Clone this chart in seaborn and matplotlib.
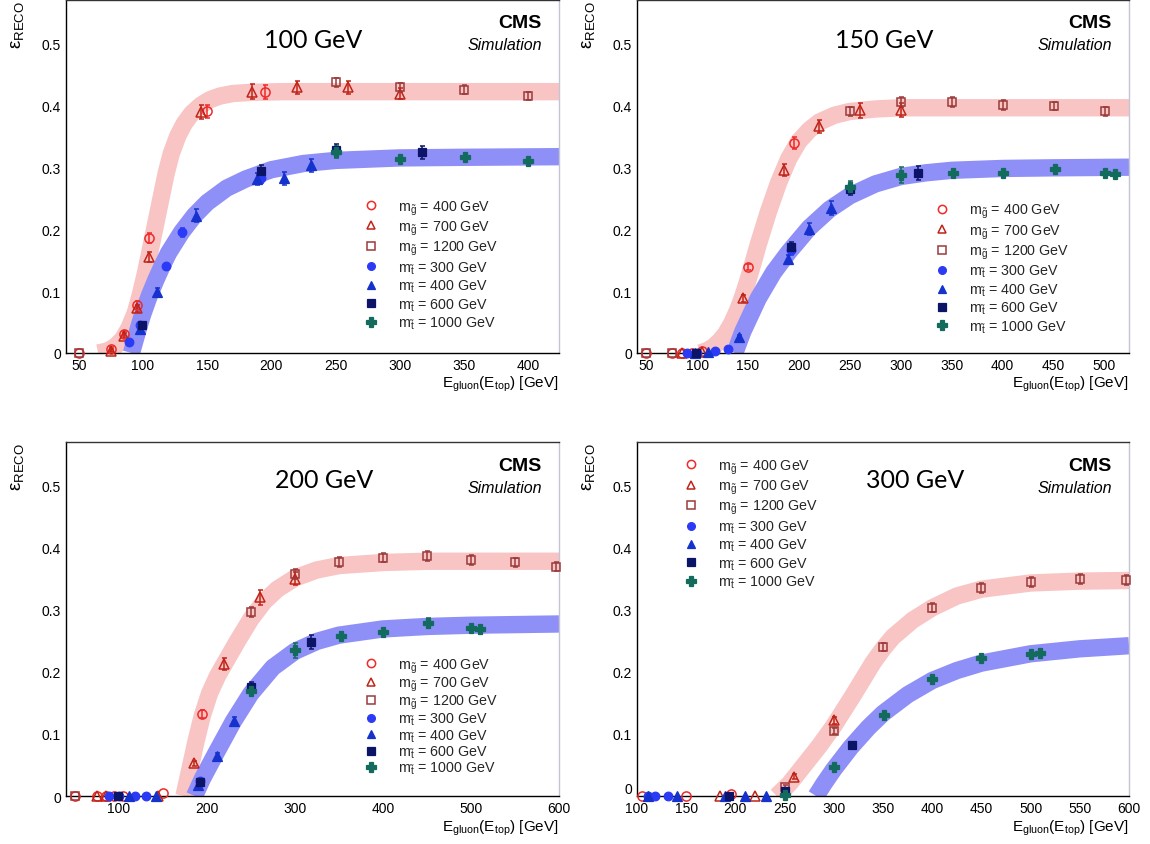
import numpy as np
import pandas as pd
import matplotlib
matplotlib.use("Agg")
import matplotlib.pyplot as plt
from matplotlib.ticker import MultipleLocator, FixedLocator, FixedFormatter
from matplotlib.lines import Line2D
import seaborn as sns

# ---------------- data: (E [GeV], efficiency, error) ----------------
# panel "100 GeV"
G100_GL400 = [(50, 0.0, 0), (75, 0.007, 0.003), (85, 0.031, 0.004), (95, 0.078, 0.006),
              (105, 0.185, 0.008), (150, 0.39, 0.01), (195, 0.421, 0.011)]
G100_GL700 = [(75, 0.004, 0.002), (85, 0.028, 0.004), (95, 0.072, 0.006), (105, 0.155, 0.008),
              (145, 0.389, 0.011), (185, 0.422, 0.012), (220, 0.429, 0.011), (260, 0.429, 0.011),
              (300, 0.419, 0.009)]
G100_GL1200 = [(50, 0.0, 0), (250, 0.437, 0.007), (300, 0.429, 0.007), (350, 0.425, 0.007),
               (400, 0.415, 0.007)]
G100_ST300 = [(89, 0.018, 0.003), (98, 0.045, 0.005), (118, 0.14, 0.006), (130, 0.195, 0.007),
              (192, 0.283, 0.009)]
G100_ST400 = [(98, 0.039, 0.004), (111, 0.098, 0.007), (141, 0.222, 0.01), (189, 0.281, 0.009),
              (210, 0.282, 0.011), (231, 0.303, 0.011)]
G100_ST600 = [(99, 0.046, 0.004), (192, 0.294, 0.009), (250, 0.328, 0.01), (317, 0.324, 0.01)]
G100_ST1000 = [(250, 0.325, 0.01), (300, 0.313, 0.006), (351, 0.317, 0.006), (400, 0.31, 0.006)]
G100_FIT_GL_X = [65, 72, 78, 84, 89, 94, 98, 102, 106, 110, 114, 118, 122, 127, 132, 138, 145,
                 152, 160, 170, 185, 210, 424]
G100_FIT_GL_Y = [0.0, 0.003, 0.01, 0.022, 0.04, 0.065, 0.095, 0.13, 0.17, 0.21, 0.25, 0.29, 0.322,
                 0.35, 0.37, 0.387, 0.4, 0.409, 0.415, 0.419, 0.421, 0.422, 0.422]
G100_FIT_ST_X = [91, 94, 97, 100, 105, 110, 115, 120, 130, 140, 150, 165, 180, 200, 225, 250, 300, 350, 424]
G100_FIT_ST_Y = [0.0, 0.022, 0.044, 0.064, 0.093, 0.118, 0.141, 0.162, 0.195, 0.222, 0.243, 0.266,
                 0.281, 0.296, 0.306, 0.311, 0.315, 0.316, 0.317]

# panel "150 GeV"
G150_GL400 = [(50, 0.0, 0), (75, 0.0, 0), (85, 0.0, 0), (95, 0.0, 0), (105, 0.003, 0),
              (150, 0.139, 0.005), (195, 0.339, 0.01)]
G150_GL700 = [(85, 0.0, 0), (105, 0.002, 0), (145, 0.088, 0.005), (185, 0.295, 0.01),
              (220, 0.366, 0.011), (260, 0.392, 0.012), (300, 0.392, 0.011)]
G150_GL1200 = [(50, 0.0, 0), (75, 0.0, 0), (250, 0.39, 0.008), (300, 0.406, 0.008), (350, 0.406, 0.008),
               (400, 0.401, 0.008), (450, 0.399, 0.007), (500, 0.39, 0.007)]
G150_ST300 = [(90, 0.0, 0), (100, 0.0, 0), (118, 0.004, 0), (130, 0.007, 0), (192, 0.166, 0.008)]
G150_ST400 = [(98, 0.0, 0), (111, 0.002, 0), (141, 0.026, 0.003), (189, 0.152, 0.007),
              (210, 0.2, 0.01), (231, 0.234, 0.011)]
G150_ST600 = [(99, 0.0, 0), (192, 0.171, 0.008), (250, 0.265, 0.01), (317, 0.291, 0.011)]
G150_ST1000 = [(250, 0.268, 0.01), (300, 0.287, 0.013), (351, 0.291, 0.006), (400, 0.29, 0.006),
               (451, 0.297, 0.006), (500, 0.291, 0.005), (510, 0.289, 0.005)]
G150_FIT_GL_X = [103, 110, 116, 122, 128, 134, 140, 145, 150, 155, 160, 170, 180, 190, 200, 210, 220,
                 235, 250, 275, 300, 524]
G150_FIT_GL_Y = [0.0, 0.004, 0.01, 0.019, 0.031, 0.048, 0.07, 0.092, 0.118, 0.146, 0.175, 0.228,
                 0.275, 0.314, 0.342, 0.36, 0.373, 0.384, 0.39, 0.394, 0.396, 0.396]
G150_FIT_ST_X = [137, 145, 160, 175, 190, 210, 230, 250, 275, 300, 325, 350, 400, 450, 524]
G150_FIT_ST_Y = [0.0, 0.035, 0.088, 0.13, 0.163, 0.202, 0.232, 0.254, 0.273, 0.285, 0.291, 0.295, 0.298,
                 0.299, 0.300]

# panel "200 GeV"
G200_GL400 = [(50, 0.0, 0), (75, 0.0, 0), (85, 0.0, 0), (95, 0.0, 0), (105, 0.0, 0),
              (150, 0.005, 0), (195, 0.132, 0.006)]
G200_GL700 = [(75, 0.0, 0), (85, 0.0, 0), (145, 0.0, 0), (185, 0.053, 0.004), (220, 0.213, 0.01),
              (260, 0.32, 0.012), (300, 0.35, 0.011)]
G200_GL1200 = [(50, 0.0, 0), (250, 0.297, 0.008), (300, 0.358, 0.008), (350, 0.377, 0.008),
               (400, 0.384, 0.008), (450, 0.386, 0.008), (500, 0.38, 0.008), (550, 0.376, 0.007),
               (597, 0.369, 0.007)]
G200_ST300 = [(89, 0.0, 0), (100, 0.0, 0), (118, 0.0, 0), (131, 0.0, 0), (192, 0.024, 0.003)]
G200_ST400 = [(111, 0.0, 0), (142, 0.0, 0), (190, 0.018, 0.003), (211, 0.065, 0.005), (231, 0.12, 0.008)]
G200_ST600 = [(99, 0.0, 0), (192, 0.023, 0.003), (250, 0.175, 0.008), (318, 0.248, 0.011)]
G200_ST1000 = [(250, 0.169, 0.007), (300, 0.235, 0.012), (352, 0.257, 0.006), (400, 0.264, 0.006),
               (451, 0.279, 0.007), (500, 0.27, 0.005), (510, 0.269, 0.005)]
G200_FIT_GL_X = [174, 181, 188, 195, 203, 212, 222, 235, 250, 265, 280, 300, 325, 350, 400, 450, 600]
G200_FIT_GL_Y = [0.0, 0.045, 0.09, 0.13, 0.165, 0.193, 0.218, 0.25, 0.285, 0.313, 0.333, 0.351, 0.364,
                 0.371, 0.376, 0.378, 0.378]
G200_FIT_ST_X = [186, 195, 210, 230, 250, 275, 300, 325, 350, 400, 450, 500, 600]
G200_FIT_ST_Y = [0.0, 0.028, 0.068, 0.12, 0.165, 0.207, 0.233, 0.249, 0.259, 0.269, 0.273, 0.275, 0.277]

# panel "300 GeV"
G300_GL400 = [(105, 0.0, 0), (150, 0.0, 0), (196, 0.004, 0)]
G300_GL700 = [(184, 0.0, 0), (220, 0.0, 0), (260, 0.031, 0.004), (300, 0.122, 0.006)]
G300_GL1200 = [(250, 0.015, 0.003), (300, 0.105, 0.005), (350, 0.24, 0.006), (400, 0.303, 0.007),
               (450, 0.335, 0.008), (500, 0.344, 0.008), (550, 0.349, 0.008), (597, 0.348, 0.008)]
G300_ST300 = [(111, 0.0, 0), (118, 0.0, 0), (131, 0.0, 0)]
G300_ST400 = [(111, 0.0, 0), (141, 0.0, 0), (189, 0.0, 0), (210, 0.0, 0), (231, 0.0, 0)]
G300_ST600 = [(193, 0.0, 0), (250, 0.008, 0.002), (318, 0.082, 0.005)]
G300_ST1000 = [(250, 0.002, 0), (300, 0.046, 0.004), (351, 0.13, 0.005), (400, 0.189, 0.006),
               (450, 0.222, 0.007), (500, 0.228, 0.006), (510, 0.231, 0.006)]
G300_FIT_GL_X = [242, 255, 270, 285, 300, 320, 340, 350, 360, 380, 400, 425, 450, 500, 550, 600]
G300_FIT_GL_Y = [0.0, 0.02, 0.05, 0.08, 0.113, 0.163, 0.215, 0.237, 0.256, 0.283, 0.303, 0.322, 0.333,
                 0.343, 0.346, 0.347]
G300_FIT_ST_X = [282, 290, 300, 317, 335, 350, 375, 400, 425, 450, 500, 550, 600]
G300_FIT_ST_Y = [0.0, 0.02, 0.043, 0.078, 0.11, 0.133, 0.163, 0.186, 0.202, 0.214, 0.229, 0.237, 0.242]

PANEL_TITLES = ["100 GeV", "150 GeV", "200 GeV", "300 GeV"]
LEGEND_LABELS = [r"$\mathrm{m}_{\tilde{\mathrm{g}}}$ = 400 GeV",
                 r"$\mathrm{m}_{\tilde{\mathrm{g}}}$ = 700 GeV",
                 r"$\mathrm{m}_{\tilde{\mathrm{g}}}$ = 1200 GeV",
                 r"$\mathrm{m}_{\tilde{\mathrm{t}}}$ = 300 GeV",
                 r"$\mathrm{m}_{\tilde{\mathrm{t}}}$ = 400 GeV",
                 r"$\mathrm{m}_{\tilde{\mathrm{t}}}$ = 600 GeV",
                 r"$\mathrm{m}_{\tilde{\mathrm{t}}}$ = 1000 GeV"]
Y_TICKS = [0, 0.1, 0.2, 0.3, 0.4, 0.5]
Y_TICK_LABELS = ["0", "0.1", "0.2", "0.3", "0.4", "0.5"]

# ---------------- styles ----------------
# (marker, color, filled, size)
STYLES = [("o", "#ee2a2a", False, 6.6),
          ("^", "#c02418", False, 6.8),
          ("s", "#9b3a3a", False, 6.2),
          ("o", "#2b3bf5", True, 6.2),
          ("^", "#1532cc", True, 6.6),
          ("s", "#0b1466", True, 6.0),
          ("P", "#136b5e", True, 7.4)]
PINK = "#f8c4c4"
BLUE = "#8f8ff8"

panels = [
    dict(series=[G100_GL400, G100_GL700, G100_GL1200, G100_ST300, G100_ST400, G100_ST600, G100_ST1000],
         fit_gl=(G100_FIT_GL_X, G100_FIT_GL_Y), fit_st=(G100_FIT_ST_X, G100_FIT_ST_Y),
         xlim=(40, 424), major=50, minor=10, xt=(50, 400),
         rect=[0.05739, 0.58107, 0.42870, 0.41775],
         title_xy=(0.501, 0.867), leg=(0.6045, 0.4385), cms_y=(0.9227, 0.861), lsp=0.145,
         lift_zero=False),
    dict(series=[G150_GL400, G150_GL700, G150_GL1200, G150_ST300, G150_ST400, G150_ST600, G150_ST1000],
         fit_gl=(G150_FIT_GL_X, G150_FIT_GL_Y), fit_st=(G150_FIT_ST_X, G150_FIT_ST_Y),
         xlim=(41, 524), major=50, minor=10, xt=(50, 500),
         rect=[0.55391, 0.58107, 0.42783, 0.41775],
         title_xy=(0.502, 0.866), leg=(0.6055, 0.428), cms_y=(0.9227, 0.861), lsp=0.145,
         lift_zero=False),
    dict(series=[G200_GL400, G200_GL700, G200_GL1200, G200_ST300, G200_ST400, G200_ST600, G200_ST1000],
         fit_gl=(G200_FIT_GL_X, G200_FIT_GL_Y), fit_st=(G200_FIT_ST_X, G200_FIT_ST_Y),
         xlim=(40, 600), major=100, minor=20, xt=(100, 600),
         rect=[0.05739, 0.05680, 0.42870, 0.41893],
         title_xy=(0.524, 0.872), leg=(0.6045, 0.394), cms_y=(0.922, 0.858), lsp=-0.01,
         lift_zero=False),
    dict(series=[G300_GL400, G300_GL700, G300_GL1200, G300_ST300, G300_ST400, G300_ST600, G300_ST1000],
         fit_gl=(G300_FIT_GL_X, G300_FIT_GL_Y), fit_st=(G300_FIT_ST_X, G300_FIT_ST_Y),
         xlim=(100, 600), major=50, minor=10, xt=(100, 600),
         rect=[0.55391, 0.05680, 0.42783, 0.41893],
         title_xy=(0.565, 0.872), leg=(0.0955, 0.9565), cms_y=(0.922, 0.858), lsp=0.145,
         lift_zero=True),
]

sns.set_theme(style="white")
plt.rcParams['font.family'] = ['Liberation Sans', 'DejaVu Sans']
plt.rcParams['mathtext.fontset'] = 'custom'
plt.rcParams['mathtext.rm'] = 'Liberation Sans'
plt.rcParams['mathtext.it'] = 'Liberation Sans:italic'
plt.rcParams['mathtext.bf'] = 'Liberation Sans:bold'
plt.rcParams['mathtext.sf'] = 'Liberation Sans'

fig = plt.figure(figsize=(11.5, 8.45), dpi=100)
fig.patch.set_facecolor("white")

BAND_LW = 12.5

for title, p in zip(PANEL_TITLES, panels):
    ax = fig.add_axes(p["rect"])
    ax.set_facecolor("white")
    # fit bands
    for (fx, fy), col in ((p["fit_gl"], PINK), (p["fit_st"], BLUE)):
        df = pd.DataFrame({"E": fx, "eff": fy})
        sns.lineplot(data=df, x="E", y="eff", ax=ax, color=col, linewidth=BAND_LW,
                     sort=False, estimator=None, solid_capstyle="butt",
                     solid_joinstyle="round", zorder=1)
    # data points
    handles = []
    for pts, (mk, col, filled, ms), lab in zip(p["series"], STYLES, LEGEND_LABELS):
        arr = np.array(pts, dtype=float)
        x, y, e = arr[:, 0], arr[:, 1], arr[:, 2]
        has = e > 0
        if has.any():
            ax.errorbar(x[has], y[has], yerr=e[has], fmt="none", ecolor=col, elinewidth=1.1,
                        capsize=1.8, capthick=1.1, zorder=3, clip_on=False)
        mfc = col if filled else "none"
        mew = 0.9 if filled else 1.1
        ax.plot(x, y, linestyle="none", marker=mk, ms=ms, mfc=mfc, mec=col, mew=mew,
                zorder=4, clip_on=False)
        handles.append(Line2D([], [], linestyle="none", marker=mk, ms=ms * 0.9, mfc=mfc, mec=col, mew=mew))

    ax.set_xlim(*p["xlim"])
    ax.set_ylim(0, 0.57)
    ax.xaxis.set_major_locator(FixedLocator(list(range(p["xt"][0], p["xt"][1] + 1, p["major"]))))
    ax.xaxis.set_minor_locator(MultipleLocator(p["minor"]))
    ax.yaxis.set_major_locator(FixedLocator(Y_TICKS))
    ax.yaxis.set_major_formatter(FixedFormatter(Y_TICK_LABELS))
    ax.yaxis.set_minor_locator(MultipleLocator(0.02))
    ax.set_xlabel("")
    ax.set_ylabel("")
    ax.tick_params(axis="both", which="both", direction="in", top=False, right=False,
                   colors="black", width=0.8, labelsize=10)
    ax.tick_params(axis="y", which="major", length=10.5, pad=3.6)
    ax.tick_params(axis="y", which="minor", length=5)
    ax.tick_params(axis="x", which="major", length=7, pad=3.9)
    ax.tick_params(axis="x", which="minor", length=3)
    for side in ("left", "bottom"):
        ax.spines[side].set_color("black")
        ax.spines[side].set_linewidth(1.0)
    ax.spines["top"].set_color("#333333")
    ax.spines["top"].set_linewidth(1.0)
    ax.spines["right"].set_color("#c4c4d4")
    ax.spines["right"].set_linewidth(1.0)
    if p["lift_zero"]:
        # keep the "0" of the y axis clear of the first x tick label
        ax.get_yticklabels()[0].set_verticalalignment("bottom")

    # axis titles
    ax.text(1.0, -0.06, r"$\mathrm{E}_{\mathrm{gluon}}(\mathrm{E}_{\mathrm{top}})$ [GeV]",
            transform=ax.transAxes, ha="right", va="top", fontsize=11, color="black")
    ax.text(-0.099, 1.0, r"$\mathrm{\varepsilon}_{\mathrm{RECO}}$", transform=ax.transAxes,
            rotation=90, ha="center", va="top", fontsize=13.5, color="black")

    # panel title + CMS label
    ax.text(p["title_xy"][0], p["title_xy"][1], title, transform=ax.transAxes, ha="center",
            va="baseline", fontsize=18, family=["Lato", "DejaVu Sans"], color="black")
    ax.text(0.965, p["cms_y"][0], "CMS", transform=ax.transAxes, ha="right", va="baseline",
            fontsize=14, fontweight="bold", color="black")
    ax.text(0.966, p["cms_y"][1], "Simulation", transform=ax.transAxes, ha="right", va="baseline",
            fontsize=11.5, style="italic", color="black")

    ax.legend(handles=handles, labels=LEGEND_LABELS, loc="upper left",
              bbox_to_anchor=p["leg"], frameon=False, fontsize=10.3, borderpad=0,
              borderaxespad=0, handlelength=1.0, handletextpad=1.36, labelspacing=p["lsp"])

fig.savefig("out.png", dpi=100, facecolor="white")
